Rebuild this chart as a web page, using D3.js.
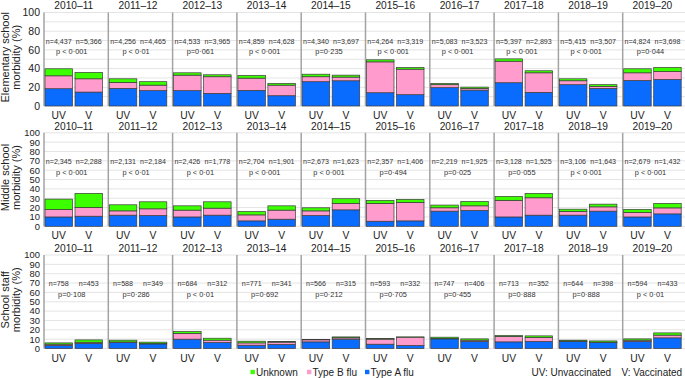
<!DOCTYPE html>
<html>
<head>
<meta charset="utf-8">
<script src="https://cdn.jsdelivr.net/npm/d3@7"></script>
<style>
  body { margin: 0; background: #fff; }
  svg { font-family: 'Liberation Sans', Arial, sans-serif; }
  .grid line { stroke: #e4e4e4; stroke-width: 1; }
  .panel-line { stroke: #a3a3a3; stroke-width: 1.5; }
  .bar rect { stroke: #3a3a3a; stroke-width: 0.7; }
</style>
</head>
<body>
<svg id="chart"></svg>
<script>
// seasons and groups
const seasons = ['2010–11', '2011–12', '2012–13', '2013–14', '2014–15',
                 '2015–16', '2016–17', '2017–18', '2018–19', '2019–20'];
const groups = ['UV', 'V'];
const keys = ['typeA', 'typeB', 'unknown'];
const keyLabels = ['Type A flu', 'Type B flu', 'Unknown'];
const rowTitles = [['Elementary school', 'morbidity (%)'], ['Middle school', 'morbidity (%)'], ['School staff', 'morbidity (%)']];

// morbidity (%) per season, [UV, V]
const elemTypeA = [[18.5, 14.9], [18.8, 16.4], [16.4, 13.5], [16.7, 11.0], [26.0, 27.0], [14.2, 12.1], [19.6, 17.0], [24.9, 14.6], [22.8, 18.8], [27.3, 28.4]];
const elemTypeB = [[13.8, 14.2], [6.4, 5.9], [16.6, 17.8], [13.1, 11.3], [5.3, 3.9], [33.0, 27.3], [3.2, 1.8], [23.0, 20.9], [4.2, 2.2], [8.2, 8.5]];
const elemUnknown = [[7.5, 6.8], [3.9, 3.7], [2.5, 2.1], [2.9, 1.8], [2.7, 2.1], [2.2, 1.8], [1.3, 1.4], [2.5, 2.2], [2.1, 1.8], [4.3, 4.3]];

const midTypeA = [[10.0, 10.8], [11.9, 11.5], [10.0, 11.9], [5.8, 7.6], [11.5, 17.6], [5.4, 5.8], [16.2, 16.9], [10.0, 11.9], [11.9, 16.2], [10.0, 13.3]];
const midTypeB = [[8.0, 9.3], [4.6, 7.2], [7.3, 7.5], [6.4, 9.7], [5.0, 6.9], [19.1, 19.8], [3.6, 5.0], [17.7, 18.6], [3.9, 4.6], [4.8, 6.4]];
const midUnknown = [[11.1, 15.1], [6.5, 7.5], [4.6, 6.8], [3.6, 4.6], [3.3, 5.0], [3.2, 3.2], [2.9, 4.7], [4.3, 4.7], [2.5, 2.9], [3.2, 4.8]];

const staffTypeA = [[3.2, 5.5], [6.4, 4.9], [10.0, 6.4], [3.5, 4.3], [7.1, 10.0], [4.6, 3.2], [10.3, 7.5], [7.1, 7.5], [7.5, 6.4], [7.5, 11.4]];
const staffTypeB = [[1.4, 1.2], [0.6, 0.4], [6.1, 2.5], [2.5, 2.5], [2.2, 1.4], [5.4, 8.9], [0.5, 1.4], [5.8, 4.3], [0.4, 0.4], [1.4, 2.9]];
const staffUnknown = [[1.4, 2.5], [1.9, 1.5], [2.1, 2.1], [1.8, 0.8], [0.3, 1.0], [0.8, 0.3], [1.3, 1.4], [1.0, 1.7], [1.0, 1.3], [1.4, 2.4]];

// sample sizes and p values
const elemN = [['4,437', '5,366'], ['4,256', '4,465'], ['4,533', '3,965'], ['4,859', '4,628'], ['4,340', '3,697'],
               ['4,264', '3,319'], ['5,083', '3,523'], ['5,397', '2,893'], ['5,415', '3,507'], ['4,824', '3,698']];
const elemP = ['p < 0·001', 'p < 0·01', 'p=0·061', 'p < 0·001', 'p=0·235', 'p < 0·001', 'p < 0·001', 'p < 0·001', 'p < 0·001', 'p=0·044'];
const midN = [['2,345', '2,288'], ['2,131', '2,184'], ['2,426', '1,778'], ['2,704', '1,901'], ['2,673', '1,623'],
              ['2,357', '1,406'], ['2,219', '1,925'], ['3,128', '1,525'], ['3,106', '1,643'], ['2,679', '1,432']];
const midP = ['p < 0·001', 'p < 0·01', 'p < 0·01', 'p < 0·001', 'p < 0·001', 'p=0·494', 'p=0·025', 'p=0·055', 'p < 0·001', 'p < 0·001'];
const staffN = [['758', '453'], ['588', '349'], ['684', '312'], ['771', '341'], ['566', '315'],
                ['593', '332'], ['747', '406'], ['713', '352'], ['644', '398'], ['594', '433']];
const staffP = ['p=0·108', 'p=0·286', 'p < 0·01', 'p=0·692', 'p=0·212', 'p=0·705', 'p=0·455', 'p=0·888', 'p=0·888', 'p < 0·01'];

const yTicksTop = [0, 20, 40, 60, 80, 100];
const yTicksOther = d3.range(0, 101, 10);

const rowsData = [
  { title: rowTitles[0], a: elemTypeA, b: elemTypeB, u: elemUnknown, n: elemN, p: elemP, ticks: yTicksTop },
  { title: rowTitles[1], a: midTypeA, b: midTypeB, u: midUnknown, n: midN, p: midP, ticks: yTicksOther },
  { title: rowTitles[2], a: staffTypeA, b: staffTypeB, u: staffUnknown, n: staffN, p: staffP, ticks: yTicksOther }
];

const colors = { typeA: '#0a6cff', typeB: '#ff9bcd', unknown: '#3cff00' };

const width = 685, height = 378;
const left = 44, panelStep = 64.3;
const rowTops = [12.5, 132.8, 255];
const plotH = 93.5;

const svg = d3.select('#chart')
    .attr('width', width)
    .attr('height', height);

const xPanel = d3.scaleBand()
    .domain(seasons)
    .range([left, left + panelStep * seasons.length]);

const xGroup = d3.scaleBand()
    .domain(groups)
    .range([1, 58.5])
    .paddingInner(0.083);

const stack = d3.stack().keys(keys);

rowsData.forEach((row, r) => {
  const top = rowTops[r];
  const y = d3.scaleLinear().domain([0, 100]).range([top + plotH, top]);
  const g = svg.append('g').attr('class', 'row');

  // gridlines
  g.append('g').attr('class', 'grid')
    .selectAll('line')
    .data(yTicksOther)
    .join('line')
      .attr('x1', left)
      .attr('x2', width)
      .attr('y1', d => y(d))
      .attr('y2', d => y(d));

  // y tick labels
  g.append('g')
    .selectAll('text')
    .data(row.ticks)
    .join('text')
      .attr('x', left - 4)
      .attr('y', d => y(d))
      .attr('dy', '0.36em')
      .attr('text-anchor', 'end')
      .attr('font-size', r === 0 ? 10.5 : 9.4)
      .attr('fill', '#222')
      .text(d => d);

  // y axis title (two lines)
  const cy = top + plotH / 2 - 2;
  g.append('text')
      .attr('transform', `translate(8.5,${cy}) rotate(-90)`)
      .attr('text-anchor', 'middle')
      .attr('font-size', 11)
      .attr('fill', '#222')
    .selectAll('tspan')
    .data(row.title)
    .join('tspan')
      .attr('x', 0)
      .attr('dy', (d, i) => i === 0 ? 0 : '1.0em')
      .text(d => d);

  seasons.forEach((season, s) => {
    const px = xPanel(season);
    const pg = g.append('g').attr('transform', `translate(${px},0)`);

    const table = groups.map((grp, k) => ({
      group: grp,
      typeA: row.a[s][k],
      typeB: row.b[s][k],
      unknown: row.u[s][k]
    }));
    const series = stack(table);

    // panel separator / axis line
    pg.append('line')
        .attr('class', 'panel-line')
        .attr('x1', 0).attr('x2', 0)
        .attr('y1', y(100)).attr('y2', y(0));

    // season title
    const cx = xGroup.range().reduce((a, b) => a + b) / 2;
    pg.append('text')
        .attr('x', cx)
        .attr('y', top - 3.2)
        .attr('text-anchor', 'middle')
        .attr('font-size', 10.2)
        .attr('fill', '#222')
        .text(season);

    // stacked bars
    pg.append('g').attr('class', 'bar')
      .selectAll('g')
      .data(series)
      .join('g')
        .attr('fill', d => colors[d.key])
      .selectAll('rect')
      .data(d => d)
      .join('rect')
        .attr('x', d => xGroup(d.data.group))
        .attr('width', xGroup.bandwidth())
        .attr('y', d => y(d[1]))
        .attr('height', d => y(d[0]) - y(d[1]));

    // group labels
    pg.append('g')
      .selectAll('text')
      .data(groups)
      .join('text')
        .attr('x', d => xGroup(d) + xGroup.bandwidth() / 2)
        .attr('y', y(0) + 13)
        .attr('text-anchor', 'middle')
        .attr('font-size', 10.3)
        .attr('fill', '#222')
        .text(d => d);

    // n labels
    pg.append('g')
      .selectAll('text')
      .data(groups)
      .join('text')
        .attr('x', d => xGroup(d) + xGroup.bandwidth() / 2)
        .attr('y', y(69.5))
        .attr('dy', '0.35em')
        .attr('text-anchor', 'middle')
        .attr('font-size', 7.1)
        .attr('fill', '#333')
        .text((d, k) => 'n=' + row.n[s][k]);

    // p label
    pg.append('text')
        .attr('x', cx - 2)
        .attr('y', y(58))
        .attr('dy', '0.35em')
        .attr('text-anchor', 'middle')
        .attr('font-size', 7.4)
        .attr('fill', '#333')
        .text(row.p[s]);
  });
});

// legend
const legendX = [250.5, 307, 365];
const legendKeys = ['unknown', 'typeB', 'typeA'];
const legend = svg.append('g')
  .selectAll('g')
  .data(legendKeys)
  .join('g')
    .attr('transform', (d, i) => `translate(${legendX[i]},372)`);

legend.append('rect')
    .attr('x', 0)
    .attr('y', -2.2)
    .attr('width', 4.4)
    .attr('height', 4.4)
    .attr('fill', d => colors[d]);

legend.append('text')
    .attr('x', 5.5)
    .attr('dy', '0.36em')
    .attr('font-size', 10)
    .attr('fill', '#222')
    .text(d => keyLabels[keys.indexOf(d)]);

svg.append('text')
    .attr('x', 531.5)
    .attr('y', 372)
    .attr('dy', '0.36em')
    .attr('font-size', 10)
    .attr('fill', '#222')
    .text('UV: Unvaccinated');

svg.append('text')
    .attr('x', 621.5)
    .attr('y', 372)
    .attr('dy', '0.36em')
    .attr('font-size', 10)
    .attr('fill', '#222')
    .text('V: Vaccinated');
</script>
</body>
</html>
